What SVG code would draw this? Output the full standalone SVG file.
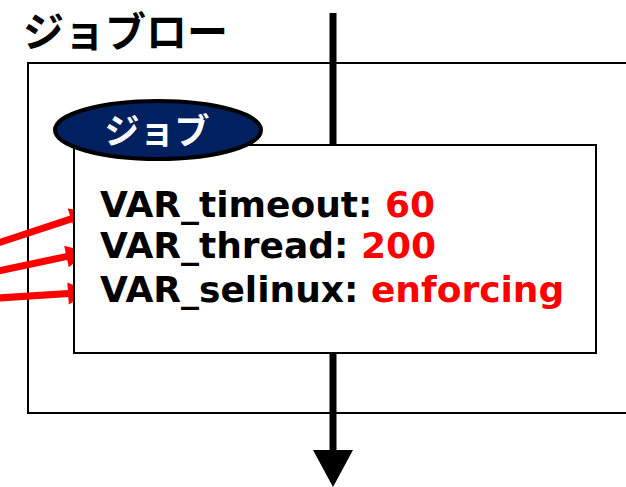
<svg xmlns="http://www.w3.org/2000/svg" width="626" height="487" viewBox="0 0 626 487">
<style>
.jp{font-family:"Noto Sans CJK JP",sans-serif;font-weight:bold}
.var{font-family:"DejaVu Sans",Verdana,sans-serif;font-weight:bold;font-size:36px;fill:#000}
.val{fill:#ff0000}
.box{fill:#fff;stroke:#000;stroke-width:2}
.red{stroke:#ff0000;stroke-width:7;fill:none}
.rh{fill:#ff0000}
</style>
<rect width="626" height="487" fill="#fff"/>
<g id="flow">
<text class="jp" x="23" y="47" font-size="41">ジョブロー</text>
<rect class="box" x="28" y="63" width="610" height="350"/>
</g>
<g id="connectors">
<line x1="333" y1="13" x2="333" y2="145" stroke="#000" stroke-width="7"/>
<line x1="333" y1="353" x2="333" y2="452" stroke="#000" stroke-width="7"/>
<path d="M313,450 L353,450 L333,487 Z" fill="#000"/>
<line class="red" x1="-2" y1="243" x2="72" y2="218.6"/>
<path class="rh" d="M92,212 L74.56,229.34 L67.66,208.44 Z"/>
<line class="red" x1="-2" y1="271" x2="67.5" y2="256.3"/>
<path class="rh" d="M88,252 L68.74,267.31 L64.2,245.79 Z"/>
<line class="red" x1="-2" y1="298" x2="69" y2="293.4"/>
<path class="rh" d="M90,292 L68.77,304.41 L67.33,282.45 Z"/>
</g>
<g id="job">
<rect class="box" x="74" y="145" width="522" height="208"/>
<ellipse cx="158" cy="130" rx="103" ry="29" fill="#002060" stroke="#000" stroke-width="4"/>
<text class="jp" x="157" y="144" font-size="35" fill="#fff" text-anchor="middle">ジョブ</text>
<text class="var" x="100" y="217">VAR_timeout: <tspan class="val">60</tspan></text>
<text class="var" x="100" y="258">VAR_thread: <tspan class="val">200</tspan></text>
<text class="var" x="100" y="302">VAR_selinux: <tspan class="val">enforcing</tspan></text>
</g>
</svg>
